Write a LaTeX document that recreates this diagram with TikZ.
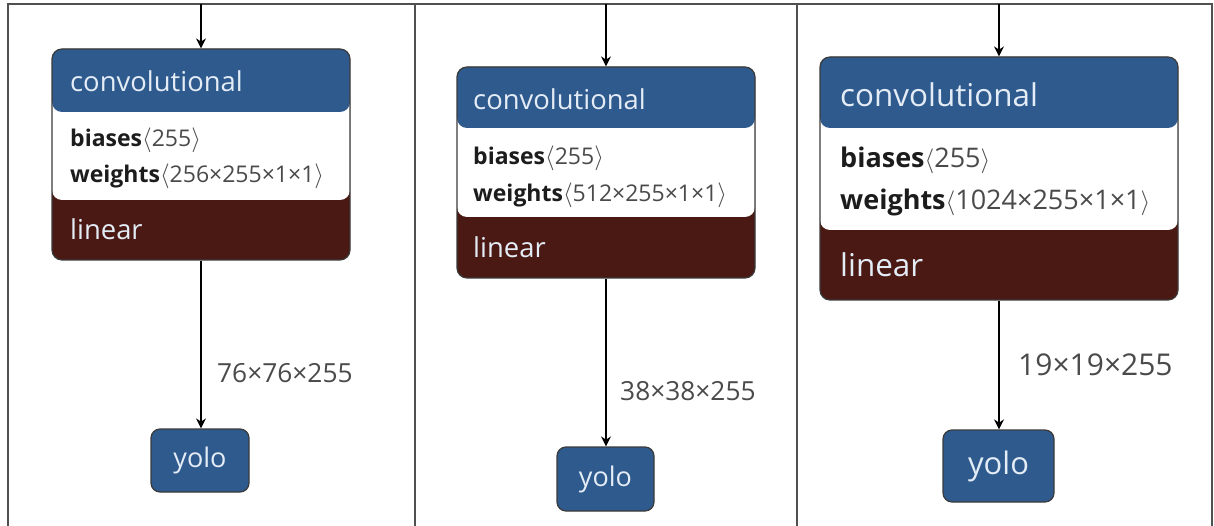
\documentclass[tikz,border=0pt]{standalone}
\usepackage{fontspec}
\setmainfont{Open Sans}
\usetikzlibrary{arrows.meta}

\definecolor{convblue}{HTML}{2F5A8E}
\definecolor{linred}{HTML}{4A1913}
\definecolor{edgegrey}{HTML}{3A3A3A}
\definecolor{lighttext}{HTML}{E4ECF6}
\definecolor{valgrey}{HTML}{4A4A4A}
\definecolor{keyblack}{HTML}{1C1C1C}
\definecolor{framegrey}{HTML}{505050}

\tikzset{
  frameline/.style={draw=framegrey, line width=1.3pt},
  flow/.style={draw=black, line width=1.4pt, -{Stealth[length=10pt,width=10pt]}},
  % three-part layer box: #1 = header depth, #2 = depth of the parameter band
  layerbox/.style 2 args={
    draw=edgegrey, line width=1.2pt, rounded corners=10pt, inner sep=0pt,
    fill=linred,
    path picture={
      \fill[white] (path picture bounding box.north west)
        rectangle ([yshift=-#2]path picture bounding box.north east);
      \fill[convblue] (path picture bounding box.north west)
        rectangle ([yshift=-#1]path picture bounding box.north east);
    }},
  yolobox/.style={draw=edgegrey, line width=1.2pt, fill=convblue,
    rounded corners=9pt, text=lighttext, inner sep=0pt},
  headtext/.style={anchor=base west, inner sep=0pt, text=lighttext},
  paramtext/.style={anchor=base west, inner sep=0pt, text=valgrey},
  shapetext/.style={anchor=base west, inner sep=0pt, text=valgrey},
}
\newcommand{\keyname}[1]{\textcolor{keyblack}{\bfseries #1}}
\newcommand{\lab}{$\langle$}
\newcommand{\rab}{$\rangle$}

\begin{document}
\begin{tikzpicture}[x=1pt,y=-1pt]
\useasboundingbox (0,0) rectangle (1214,526);

% panel frame
\draw[frameline] (8,526) -- (8,4) -- (1212,4) -- (1212,526);
\draw[frameline] (415,4) -- (415,526);
\draw[frameline] (797,4) -- (797,526);

% ---- panel 1 ----
\node[layerbox={63pt}{151pt}, minimum width=298pt, minimum height=211pt] (conv1) at (201,154.5) {};
\node[headtext, font=\fontsize{27.4}{32}\selectfont] (h1) at (70,92) {convolutional};
\node[paramtext, font=\fontsize{23}{27}\selectfont] (b1) at (70,147) {\keyname{biases}\lab255\rab};
\node[paramtext, font=\fontsize{23}{27}\selectfont] (w1) at (70,183) {\keyname{weights}\lab256×255×1×1\rab};
\node[headtext, font=\fontsize{27.4}{32}\selectfont] (l1) at (70,240) {linear};
\node[yolobox, minimum width=98pt, minimum height=63pt, font=\fontsize{27}{32}\selectfont] (yolo1) at (200,460.5) {yolo};
\coordinate (in1) at (201,4);
\draw[flow] (in1) -- (conv1.north);
\draw[flow] (conv1.south) -- (conv1.south |- yolo1.north);
\node[shapetext, font=\fontsize{26.3}{30}\selectfont] (s1) at (217,382) {76×76×255};

% ---- panel 2 ----
\node[layerbox={61pt}{150pt}, minimum width=298pt, minimum height=211pt] (conv2) at (606,172.5) {};
\node[headtext, font=\fontsize{27.4}{32}\selectfont] (h2) at (473,110) {convolutional};
\node[paramtext, font=\fontsize{23}{27}\selectfont] (b2) at (473,165) {\keyname{biases}\lab255\rab};
\node[paramtext, font=\fontsize{23}{27}\selectfont] (w2) at (473,202) {\keyname{weights}\lab512×255×1×1\rab};
\node[headtext, font=\fontsize{27.4}{32}\selectfont] (l2) at (473,258) {linear};
\node[yolobox, minimum width=97pt, minimum height=64pt, font=\fontsize{27}{32}\selectfont] (yolo2) at (605.5,479) {yolo};
\coordinate (in2) at (606,4);
\draw[flow] (in2) -- (conv2.north);
\draw[flow] (conv2.south) -- (conv2.south |- yolo2.north);
\node[shapetext, font=\fontsize{26.3}{30}\selectfont] (s2) at (620,400) {38×38×255};

% ---- panel 3 ----
\node[layerbox={71pt}{173pt}, minimum width=358pt, minimum height=243pt] (conv3) at (999,178.5) {};
\node[headtext, font=\fontsize{31.4}{36}\selectfont] (h3) at (840,107) {convolutional};
\node[paramtext, font=\fontsize{27}{32}\selectfont] (b3) at (840,168) {\keyname{biases}\lab255\rab};
\node[paramtext, font=\fontsize{27}{32}\selectfont] (w3) at (840,210) {\keyname{weights}\lab1024×255×1×1\rab};
\node[headtext, font=\fontsize{31.4}{36}\selectfont] (l3) at (840,277) {linear};
\node[yolobox, minimum width=111pt, minimum height=72pt, font=\fontsize{31}{36}\selectfont] (yolo3) at (998.5,466) {yolo};
\coordinate (in3) at (999,4);
\draw[flow] (in3) -- (conv3.north);
\draw[flow] (conv3.south) -- (conv3.south |- yolo3.north);
\node[shapetext, font=\fontsize{30}{34}\selectfont] (s3) at (1018,375) {19×19×255};
\end{tikzpicture}
\end{document}
